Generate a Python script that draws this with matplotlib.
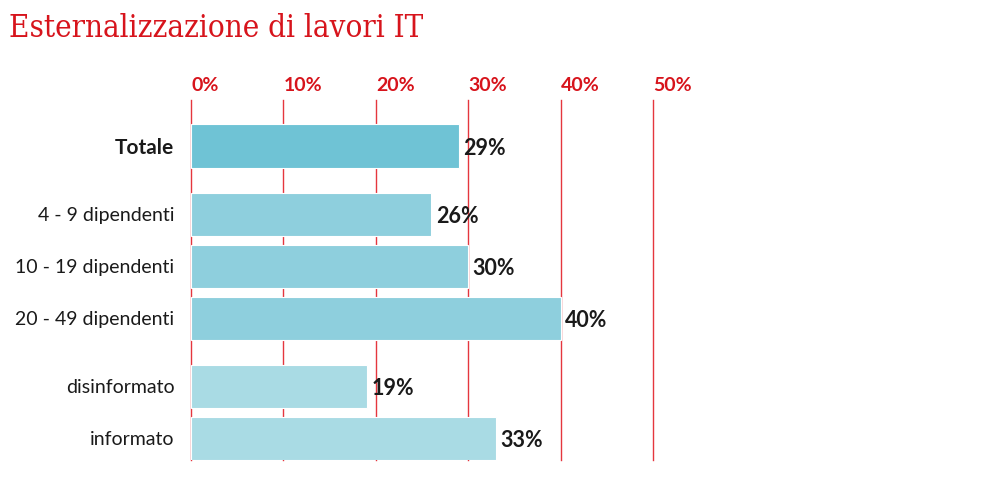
import numpy as np
import matplotlib.pyplot as plt

categories = ['Totale', '4 - 9 dipendenti', '10 - 19 dipendenti', '20 - 49 dipendenti',
              'disinformato', 'informato']
values = [29, 26, 30, 40, 19, 33]
groups = [0, 1, 1, 1, 2, 2]
tick_vals = [0, 10, 20, 30, 40, 50]
tick_labels = ['0%', '10%', '20%', '30%', '40%', '50%']
title = 'Esternalizzazione di lavori IT'

group_colors = ['#6fc3d5', '#8ecfdd', '#a9dbe4']
red = '#d7141c'

# y positions: 1 unit between bars, a bit more between groups
pos = []
y = 0.0
for i, g in enumerate(groups):
    if i > 0:
        y += 1.31 if g != groups[i - 1] else 1.0
    pos.append(y)
pos = np.array(pos)

fig = plt.figure(figsize=(9.99, 4.97), dpi=100)
ax = fig.add_axes([191 / 999, 1 - 460 / 497, (653 - 191) / 999, 360 / 497])

ax.barh(pos, values, height=0.83, color=[group_colors[g] for g in groups],
        edgecolor='white', linewidth=0.8, zorder=3)

for p, v in zip(pos, values):
    ax.text(v + 0.5, p + 0.05, '%d%%' % v, va='center', ha='left',
            fontsize=15.5, fontweight='bold', color='#1a1a1a', family='Lato', zorder=4)

ax.set_xlim(0, 50)
ax.set_ylim(-0.885 + 360 / 52, -0.885)
for t in tick_vals:
    ax.axvline(t, color='#e5363e', linewidth=1.0, zorder=1, clip_on=False)

ax.set_yticks(pos)
ax.set_yticklabels(categories, family='Lato', fontsize=14, color='#1a1a1a')
ax.get_yticklabels()[0].set_fontweight('bold')
ax.get_yticklabels()[0].set_fontsize(15)
ax.tick_params(axis='y', length=0, pad=12)

ax.xaxis.tick_top()
ax.set_xticks(tick_vals)
ax.set_xticklabels(tick_labels, family='Lato', fontsize=14, fontweight='bold', color=red, ha='left')
ax.tick_params(axis='x', length=0, pad=4)

for s in ax.spines.values():
    s.set_visible(False)

fig.text(9 / 999, 1 - 37 / 497, title, family='DejaVu Serif', fontsize=22.5, fontstretch='condensed',
         color=red, ha='left', va='baseline')

fig.savefig('out.png', dpi=100)
